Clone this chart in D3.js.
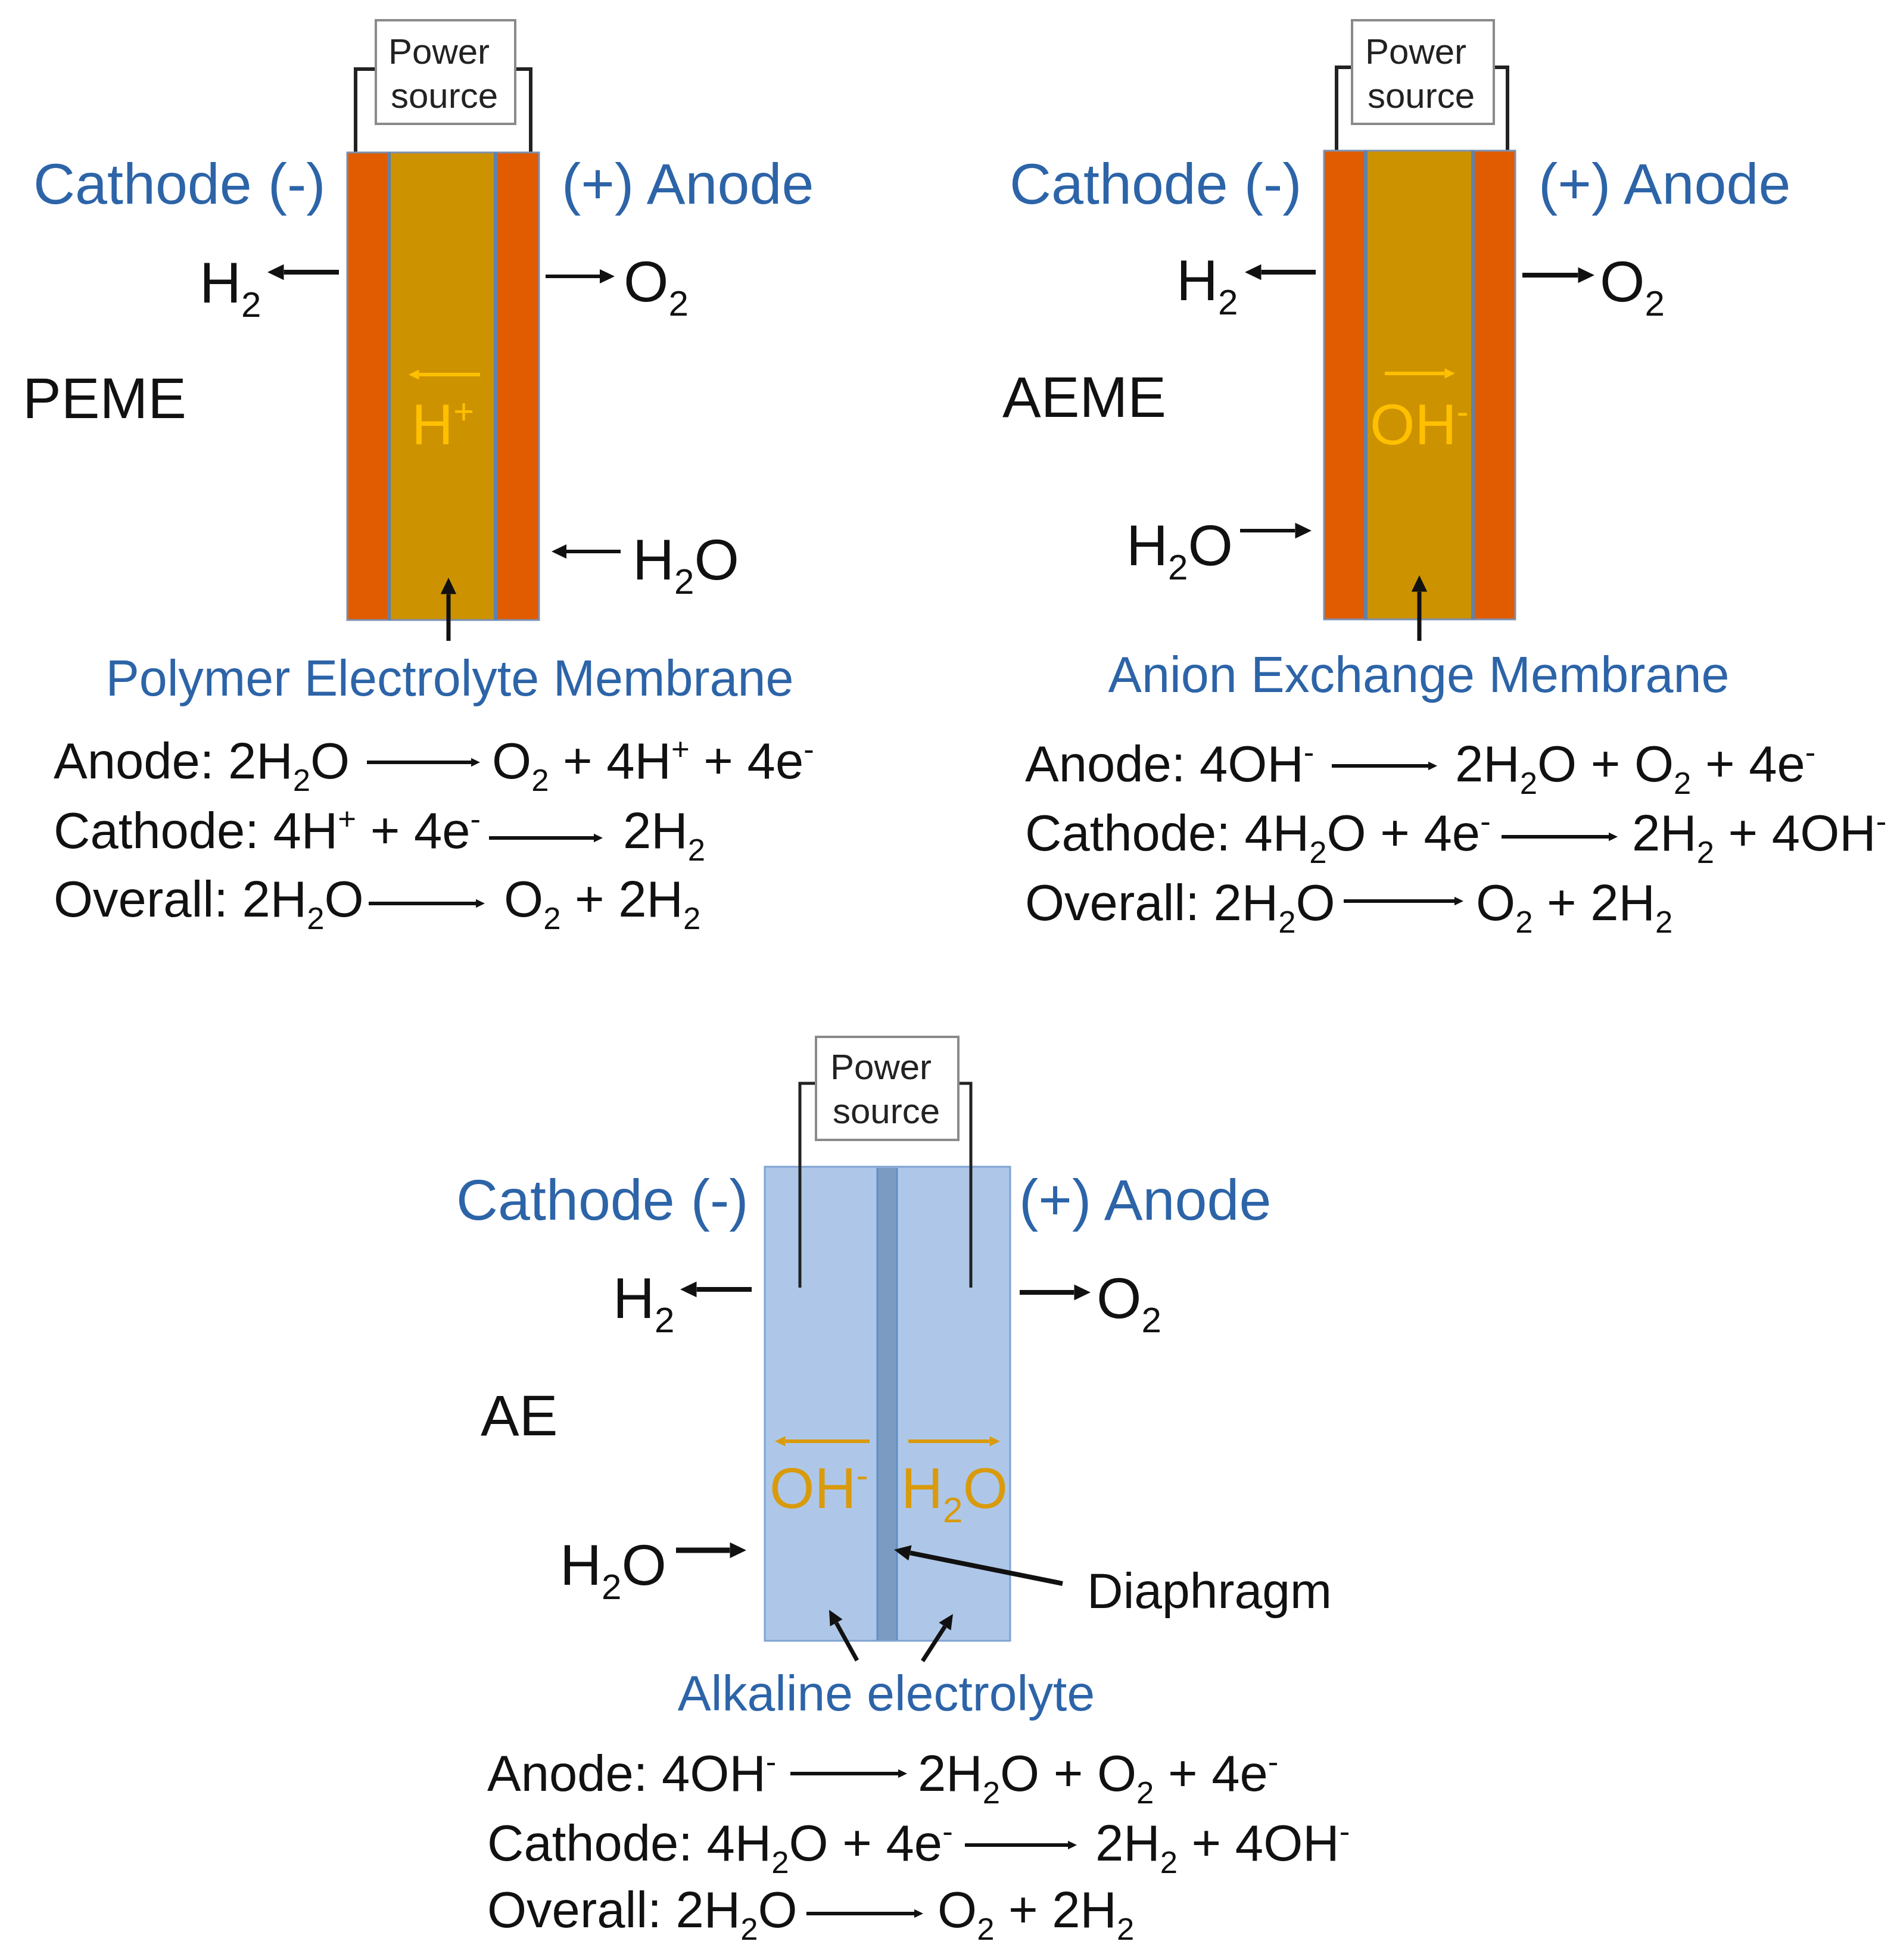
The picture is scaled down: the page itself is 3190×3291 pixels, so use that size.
<!DOCTYPE html>
<html>
<head>
<meta charset="utf-8">
<title>Water electrolysis cells</title>
<script src="https://cdn.jsdelivr.net/npm/d3@7"></script>
<style>
  html, body { margin: 0; background: #fff; }
  svg { display: block; }
  text { font-family: "Liberation Sans", Arial, sans-serif; }
</style>
</head>
<body>
<div id="chart"></div>
<script>
// labels. _x is a subscript and ^x a superscript
var panelNames = ["PEME", "AEME", "AE"];
var electrodeLabels = ["Cathode (-)", "(+) Anode"];
var powerLabels = ["Power", "source"];
var gasLabels = ["H_2", "O_2", "H_2O"];
var mediumNames = ["Polymer Electrolyte Membrane", "Anion Exchange Membrane", "Alkaline electrolyte"];
var ionLabels = [["H^+"], ["OH^-"], ["OH^-", "H_2O"]];
var diaphragmLabel = "Diaphragm";

// reactions, left and right of the arrow
var anodeLeft = ["Anode: 2H_2O", "Anode: 4OH^-", "Anode: 4OH^-"];
var anodeRight = ["O_2 + 4H^+ + 4e^-", "2H_2O + O_2 + 4e^-", "2H_2O + O_2 + 4e^-"];
var cathodeLeft = ["Cathode: 4H^+ + 4e^-", "Cathode: 4H_2O + 4e^-", "Cathode: 4H_2O + 4e^-"];
var cathodeRight = ["2H_2", "2H_2 + 4OH^-", "2H_2 + 4OH^-"];
var overallLeft = ["Overall: 2H_2O", "Overall: 2H_2O", "Overall: 2H_2O"];
var overallRight = ["O_2 + 2H_2", "O_2 + 2H_2", "O_2 + 2H_2"];

var width = 3190, height = 3291;
var x = d3.scaleLinear().domain([0, width]).range([-4, width - 4]);
var y = d3.scaleLinear().domain([0, height]).range([-3, height - 3]);

var BLUE = "#2d64a8", INK = "#111", ORANGE = "#e15b00", GOLD = "#cc9200";
var YELLOW = "#ffc000", AMBER = "#d99a0c", EDGE = "#5f82ad";
var GAS = 97, EQ = 85, MEDIUM = 84.5;

var svg = d3.select("#chart").append("svg")
  .attr("width", width).attr("height", height)
  .attr("viewBox", "0 0 " + width + " " + height);

svg.append("rect").attr("width", width).attr("height", height).attr("fill", "#fff");

// writes a label with sub and superscripts as tspans
function label(str, px, py, size, color, anchor) {
  var t = svg.append("text")
    .attr("x", x(px)).attr("y", y(py))
    .attr("font-size", size).attr("fill", color)
    .attr("text-anchor", anchor || "start");
  var parts = str.split(/([_^].)/).filter(function(s) { return s !== ""; });
  var shift = 0;
  parts.forEach(function(p) {
    var isSub = p[0] === "_", isSup = p[0] === "^";
    var want = isSub ? size * 0.25 : isSup ? -size * 0.36 : 0;
    t.append("tspan")
      .attr("dy", want - shift)
      .attr("font-size", (isSub || isSup) ? size * 0.62 : size)
      .text((isSub || isSup) ? p[1] : p);
    shift = want;
  });
}

function arrow(x1, y1, x2, y2, sw, head, color) {
  var ang = Math.atan2(y(y2) - y(y1), x(x2) - x(x1));
  var len = head * 1.25, half = head * 0.6;
  var bx = x(x2) - Math.cos(ang) * len, by = y(y2) - Math.sin(ang) * len;
  svg.append("line")
    .attr("x1", x(x1)).attr("y1", y(y1)).attr("x2", bx).attr("y2", by)
    .attr("stroke", color || INK).attr("stroke-width", sw);
  var pts = [
    [x(x2), y(y2)],
    [bx - Math.sin(ang) * half, by + Math.cos(ang) * half],
    [bx + Math.sin(ang) * half, by - Math.cos(ang) * half]
  ];
  svg.append("path").attr("d", d3.line()(pts) + "Z").attr("fill", color || INK);
}

function box(x0, y0, x1, y1, fill, stroke, sw) {
  svg.append("rect")
    .attr("x", x(x0)).attr("y", y(y0))
    .attr("width", x(x1) - x(x0)).attr("height", y(y1) - y(y0))
    .attr("fill", fill).attr("stroke", stroke || "none").attr("stroke-width", sw || 0);
}

function wire(pts, sw) {
  svg.append("path")
    .attr("d", d3.line().x(function(d) { return x(d[0]); }).y(function(d) { return y(d[1]); })(pts))
    .attr("fill", "none").attr("stroke", "#222").attr("stroke-width", sw);
}

function powerBox(x0, y0, x1, y1, lx, ly1, ly2) {
  box(x0, y0, x1, y1, "#fff", "#8a8a8a", 4);
  label(powerLabels[0], lx, ly1, 60, "#222");
  label(powerLabels[1], lx + 4, ly2, 60, "#222");
}

// three reaction lines of a panel
function reactions(i, lx, rows) {
  var lines = [[anodeLeft, anodeRight], [cathodeLeft, cathodeRight], [overallLeft, overallRight]];
  rows.forEach(function(r, k) {
    label(lines[k][0][i], lx, r.base, EQ, INK);
    arrow(r.a0, r.ay, r.a1, r.ay, 6, 12);
    label(lines[k][1][i], r.rx, r.base, EQ, INK);
  });
}

// membrane cell used by the two top panels
function membraneCell(c) {
  wire([[c.w0, c.top], [c.w0, c.wireY], [c.bx0, c.wireY]], 6);
  wire([[c.w1, c.top], [c.w1, c.wireY], [c.bx1, c.wireY]], 6);
  powerBox(c.bx0, 37, c.bx1, 211, c.plx, 110, 184);
  box(c.left, c.top, c.in0, c.bottom, ORANGE);
  box(c.in0, c.top, c.in1, c.bottom, GOLD);
  box(c.in1, c.top, c.right, c.bottom, ORANGE);
  box(c.left, c.top, c.right, c.bottom, "none", "#7d8fb0", 3);
  [c.in0, c.in1].forEach(function(v) {
    svg.append("line").attr("x1", x(v)).attr("x2", x(v)).attr("y1", y(c.top)).attr("y2", y(c.bottom))
      .attr("stroke", EDGE).attr("stroke-width", 6);
  });
}

// PEME
membraneCell({ left: 587, right: 909, in0: 657, in1: 836, top: 259, bottom: 1044,
  w0: 601, w1: 895, wireY: 119, bx0: 635, bx1: 869, plx: 656 });
label(electrodeLabels[0], 60, 345, 97, BLUE);
label(electrodeLabels[1], 947, 345, 97, BLUE);
arrow(573, 460, 453, 460, 8, 22);
label(gasLabels[0], 339, 511, GAS, INK);
arrow(920, 467, 1036, 467, 6, 20);
label(gasLabels[1], 1051, 509, GAS, INK);
label(panelNames[0], 42, 705, GAS, INK);
arrow(810, 632, 690, 632, 6, 14, YELLOW);
label(ionLabels[0][0], 695, 749, GAS, YELLOW);
arrow(1046, 929, 930, 929, 6, 20);
label(gasLabels[2], 1066, 976, GAS, INK);
arrow(757, 1079, 757, 973, 7, 22);
label(mediumNames[0], 759, 1171, MEDIUM, BLUE, "middle");
reactions(0, 94, [
  { base: 1310, a0: 620, a1: 810, ay: 1283, rx: 830 },
  { base: 1427, a0: 825, a1: 1016, ay: 1410, rx: 1050 },
  { base: 1542, a0: 623, a1: 818, ay: 1520, rx: 850 }
]);

// AEME
membraneCell({ left: 2227, right: 2548, in0: 2297, in1: 2477, top: 256, bottom: 1043,
  w0: 2248, w1: 2535, wireY: 116, bx0: 2274, bx1: 2512, plx: 2296 });
label(electrodeLabels[0], 1699, 345, 97, BLUE);
label(electrodeLabels[1], 2587, 345, 97, BLUE);
arrow(2213, 460, 2094, 460, 8, 22);
label(gasLabels[0], 1979, 507, GAS, INK);
arrow(2560, 465, 2681, 465, 8, 22);
label(gasLabels[1], 2690, 509, GAS, INK);
label(panelNames[1], 1687, 703, GAS, INK);
arrow(2329, 630, 2447, 630, 6, 14, YELLOW);
label(ionLabels[1][0], 2304, 749, GAS, YELLOW);
arrow(2086, 894, 2206, 894, 6, 22);
label(gasLabels[2], 1895, 952, GAS, INK);
arrow(2387, 1079, 2387, 969, 7, 22);
label(mediumNames[1], 2386, 1165, MEDIUM, BLUE, "middle");
reactions(1, 1725, [
  { base: 1315, a0: 2240, a1: 2417, ay: 1289, rx: 2447 },
  { base: 1431, a0: 2525, a1: 2720, ay: 1408, rx: 2744 },
  { base: 1548, a0: 2260, a1: 2461, ay: 1516, rx: 2482 }
]);

// AE
box(1288, 1962, 1700, 2758, "#aec7e8", "#7fa3d3", 3);
box(1477, 1964, 1510, 2757, "#7b9bc2");
[1477, 1510].forEach(function(v) {
  svg.append("line").attr("x1", x(v)).attr("x2", x(v)).attr("y1", y(1964)).attr("y2", y(2757))
    .attr("stroke", "#5f8fc4").attr("stroke-width", 3);
});
wire([[1347, 2165], [1347, 1822], [1374, 1822]], 5);
wire([[1634, 2165], [1634, 1822], [1613, 1822]], 5);
powerBox(1374, 1744, 1613, 1917, 1398, 1815, 1889);
label(electrodeLabels[0], 770, 2051, 97, BLUE);
label(electrodeLabels[1], 1715, 2051, 97, BLUE);
arrow(1266, 2168, 1146, 2168, 8, 22);
label(gasLabels[0], 1033, 2216, GAS, INK);
arrow(1716, 2173, 1835, 2173, 8, 22);
label(gasLabels[1], 1845, 2216, GAS, INK);
label(panelNames[2], 811, 2413, GAS, INK);
arrow(1464, 2423, 1305, 2423, 6, 14, AMBER);
arrow(1529, 2423, 1683, 2423, 6, 14, AMBER);
label(ionLabels[2][0], 1296, 2535, GAS, AMBER);
label(ionLabels[2][1], 1517, 2535, GAS, AMBER);
arrow(1139, 2606, 1257, 2606, 9, 22);
label(gasLabels[2], 944, 2664, GAS, INK);
arrow(1788, 2662, 1505, 2605, 8, 22);
label(diaphragmLabel, 1829, 2703, 84, INK);
arrow(1443, 2791, 1396, 2706, 7, 20);
arrow(1553, 2792, 1604, 2713, 7, 20);
label(mediumNames[2], 1492, 2875, 84, BLUE, "middle");
reactions(2, 822, [
  { base: 3010, a0: 1331, a1: 1527, ay: 2981, rx: 1545 },
  { base: 3127, a0: 1624, a1: 1812, ay: 3101, rx: 1843 },
  { base: 3239, a0: 1358, a1: 1554, ay: 3216, rx: 1578 }
]);
</script>
</body>
</html>
